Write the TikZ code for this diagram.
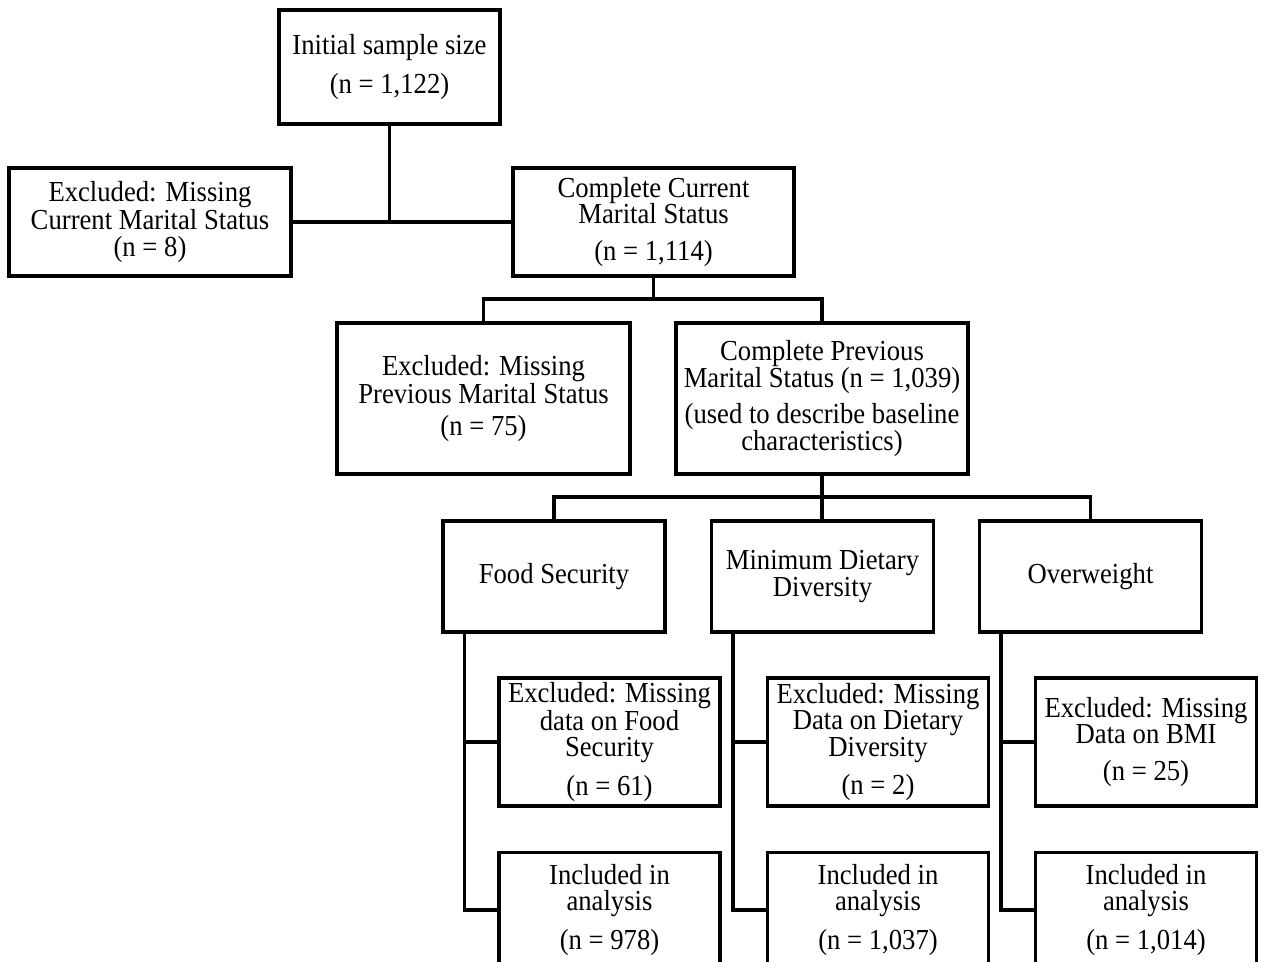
\documentclass[tikz,border=0pt]{standalone}
\usepackage{fontspec}
\setmainfont{Liberation Serif}[FakeStretch=0.92]
\tikzset{
  flowbox/.style={draw, line width=1.8pt, align=center, inner sep=0pt, font=\fontsize{16.5}{15}\selectfont},
  link/.style={line width=1.8pt}
}
\begin{document}
\begin{tikzpicture}[x=0.02cm, y=-0.02cm]
\useasboundingbox (0,0) rectangle (1266,961);
\node[flowbox, minimum width=4.42cm, minimum height=2.28cm] (init) at (389.5,67) {Initial sample size\\[7pt](n = 1,122)};
\node[flowbox, minimum width=5.64cm, minimum height=2.16cm] (exccur) at (150,222) {Excluded: Missing\\Current Marital Status\\(n = 8)};
\node[flowbox, minimum width=5.62cm, minimum height=2.16cm] (cur) at (653.5,222) {Complete Current\\Marital Status\\[6pt](n = 1,114)};
\node[flowbox, minimum width=5.86cm, minimum height=3.02cm] (excprev) at (483.5,398.5) {Excluded: Missing\\Previous Marital Status\\[3pt](n = 75)};
\node[flowbox, minimum width=5.84cm, minimum height=3.02cm] (prev) at (822,398.5) {Complete Previous\\Marital Status (n = 1,039)\\[6pt](used to describe baseline\\characteristics)};
\node[flowbox, minimum width=4.44cm, minimum height=2.22cm] (fs) at (554,576.5) {Food Security};
\node[flowbox, minimum width=4.44cm, minimum height=2.22cm] (mdd) at (822.5,576.5) {Minimum Dietary\\Diversity};
\node[flowbox, minimum width=4.44cm, minimum height=2.22cm] (ow) at (1090.5,576.5) {Overweight};
\node[flowbox, minimum width=4.42cm, minimum height=2.56cm] (excfs) at (609.5,742) {Excluded: Missing\\data on Food\\Security\\[6pt](n = 61)};
\node[flowbox, minimum width=4.42cm, minimum height=2.56cm] (excmdd) at (878,742) {Excluded: Missing\\Data on Dietary\\Diversity\\[6pt](n = 2)};
\node[flowbox, minimum width=4.42cm, minimum height=2.56cm] (excbmi) at (1146,742) {Excluded: Missing\\Data on BMI\\[6pt](n = 25)};
\node[flowbox, minimum width=4.42cm, minimum height=2.3cm] (incfs) at (609.5,910) {Included in\\analysis\\[6pt](n = 978)};
\node[flowbox, minimum width=4.42cm, minimum height=2.3cm] (incmdd) at (878,910) {Included in\\analysis\\[6pt](n = 1,037)};
\node[flowbox, minimum width=4.42cm, minimum height=2.3cm] (incbmi) at (1146,910) {Included in\\analysis\\[6pt](n = 1,014)};
% junctions
\coordinate (j1) at (653.5,299);
\coordinate (j2) at (822,497);
\coordinate (fsb) at ([xshift=0.46cm]fs.south west);
\coordinate (mddb) at ([xshift=0.46cm]mdd.south west);
\coordinate (owb) at ([xshift=0.46cm]ow.south west);
\draw[link] (exccur.east) -- (cur.west);
\draw[link] (init.south) -- (init.south |- cur.west);
\draw[link] (cur.south) -- (j1);
\draw[link] (excprev.north) |- (j1) -| (prev.north);
\draw[link] (prev.south) -- (j2);
\draw[link] (fs.north) |- (j2) -| (ow.north);
\draw[link] (j2) -- (j2 |- mdd.north);
\draw[link] (fsb) |- (incfs.west);
\draw[link] (fsb |- excfs.west) -- (excfs.west);
\draw[link] (mddb) |- (incmdd.west);
\draw[link] (mddb |- excmdd.west) -- (excmdd.west);
\draw[link] (owb) |- (incbmi.west);
\draw[link] (owb |- excbmi.west) -- (excbmi.west);
\end{tikzpicture}
\end{document}
